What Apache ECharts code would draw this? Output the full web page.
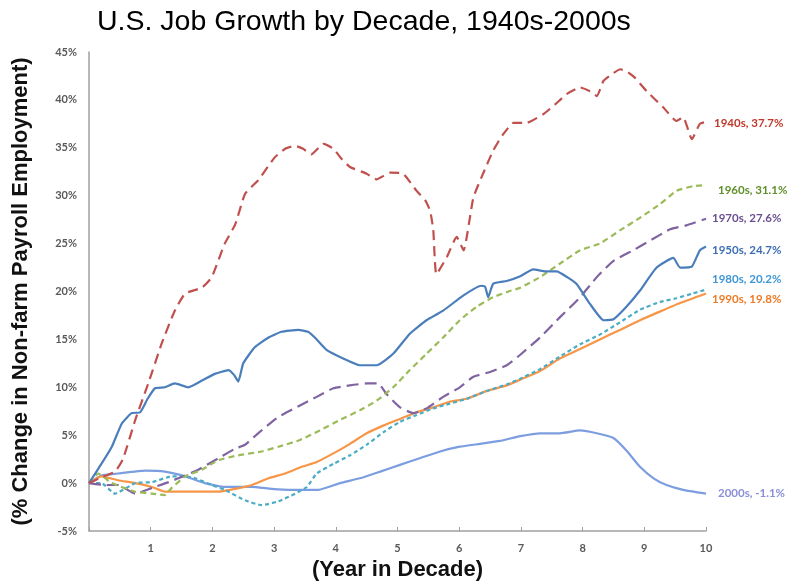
<!DOCTYPE html>
<html>
<head>
<meta charset="utf-8">
<script src="https://cdn.jsdelivr.net/npm/echarts@6/dist/echarts.min.js"></script>
<style>
html,body{margin:0;padding:0;background:#fff;}
#chart{width:788px;height:582px;}
</style>
</head>
<body>
<div id="chart"></div>
<script>
// Year-in-decade x values and % change values
const d1940s = [[0,0],[0.2,0.6],[0.42,1.2],[0.55,2.5],[0.75,6.6],[0.96,10.4],[1.18,14.6],[1.39,18],[1.56,19.8],[1.83,20.4],[1.99,21.5],[2.2,25],[2.37,27],[2.53,30.2],[2.74,31.6],[3.01,34],[3.18,34.9],[3.34,35.2],[3.47,34.9],[3.6,34.3],[3.8,35.4],[3.96,34.9],[4.1,33.8],[4.23,33],[4.5,32.3],[4.66,31.7],[4.88,32.4],[5.09,32.3],[5.31,30.5],[5.45,29.5],[5.53,28.4],[5.58,26.4],[5.63,21.8],[5.8,23.6],[5.96,25.7],[6.07,24.3],[6.23,29.8],[6.4,32.5],[6.55,34.7],[6.7,36.3],[6.88,37.6],[7.09,37.6],[7.36,38.5],[7.55,39.5],[7.74,40.6],[7.96,41.3],[8.12,40.9],[8.23,40.4],[8.34,42],[8.5,42.8],[8.61,43.2],[8.71,43],[8.85,42.3],[9.04,40.9],[9.31,39.2],[9.52,37.8],[9.63,38.2],[9.77,35.9],[9.9,37.5],[10,37.7]];
const d1950s = [[0,0],[0.2,2],[0.37,3.8],[0.53,6.2],[0.69,7.3],[0.83,7.4],[0.95,8.8],[1.07,9.9],[1.23,10],[1.39,10.4],[1.61,10],[1.83,10.7],[2.04,11.4],[2.26,11.8],[2.35,11.3],[2.42,10.6],[2.5,12.5],[2.69,14.2],[2.91,15.2],[3.12,15.8],[3.39,16],[3.55,15.8],[3.66,15.2],[3.85,13.9],[4.12,13],[4.39,12.3],[4.66,12.3],[4.93,13.5],[5.2,15.6],[5.47,17],[5.74,18],[6.07,19.6],[6.36,20.6],[6.42,20.5],[6.47,19.4],[6.55,20.8],[6.77,21.1],[6.99,21.6],[7.2,22.3],[7.4,22.1],[7.58,22.1],[7.75,21.5],[7.9,20.8],[8.12,18.7],[8.34,17],[8.5,17.1],[8.71,18.4],[8.93,20.1],[9.2,22.5],[9.47,23.5],[9.58,22.5],[9.77,22.6],[9.9,24.3],[10,24.7]];
const d1960s = [[0,0],[0.15,1],[0.37,0],[0.75,-0.9],[1.02,-1.1],[1.23,-1.25],[1.34,-0.5],[1.56,0.7],[1.83,1.4],[2.1,2.4],[2.42,2.9],[2.8,3.3],[3.07,3.8],[3.42,4.5],[3.74,5.5],[4.07,6.6],[4.39,7.6],[4.66,8.6],[4.93,10],[5.2,11.8],[5.47,13.5],[5.74,15.2],[6.01,17],[6.28,18.4],[6.55,19.4],[6.8,20],[6.99,20.4],[7.31,21.5],[7.63,22.9],[7.96,24.3],[8.28,25],[8.61,26.4],[8.93,27.7],[9.25,29.1],[9.52,30.5],[9.79,31],[10,31.1]];
const d1970s = [[0,0],[0.26,-0.2],[0.47,-0.2],[0.75,-1.1],[1.02,-0.5],[1.29,0.1],[1.56,0.8],[1.77,1.4],[2.1,2.6],[2.37,3.6],[2.53,4],[2.74,5.2],[3.07,6.9],[3.42,8.1],[3.69,9],[3.96,9.9],[4.23,10.2],[4.5,10.4],[4.69,10.4],[4.82,9.3],[5.04,7.9],[5.26,7.3],[5.47,7.8],[5.74,9],[6.01,10],[6.23,11.1],[6.5,11.6],[6.77,12.3],[6.99,13.4],[7.31,15.2],[7.63,17.3],[7.96,19.4],[8.23,21.5],[8.5,23.2],[8.82,24.3],[9.09,25.3],[9.42,26.5],[9.68,26.9],[10,27.6]];
const d1980s = [[0,0],[0.2,0],[0.42,-1.1],[0.75,0],[1.02,0.1],[1.34,0.7],[1.56,0.7],[1.72,0.5],[1.99,-0.2],[2.2,-0.7],[2.53,-1.8],[2.8,-2.3],[3.07,-1.9],[3.34,-1.1],[3.53,-0.4],[3.69,1],[3.96,2],[4.23,2.9],[4.5,4],[4.77,5.3],[5.04,6.4],[5.31,7.1],[5.58,7.8],[5.85,8.3],[6.12,8.8],[6.44,9.6],[6.77,10.3],[6.99,10.9],[7.31,11.9],[7.63,13.2],[7.96,14.5],[8.28,15.5],[8.61,16.8],[8.93,18.1],[9.25,18.9],[9.52,19.3],[9.79,19.8],[10,20.2]];
const d1990s = [[0,0],[0.2,0.7],[0.47,0.3],[0.75,0],[1.02,-0.4],[1.23,-0.9],[1.56,-0.9],[2.1,-0.9],[2.37,-0.6],[2.64,-0.2],[2.91,0.5],[3.18,1],[3.45,1.7],[3.69,2.2],[3.96,3.1],[4.23,4.1],[4.5,5.2],[4.77,6],[5.04,6.7],[5.31,7.4],[5.58,7.9],[5.85,8.5],[6.12,8.8],[6.44,9.6],[6.77,10.2],[6.99,10.8],[7.31,11.7],[7.63,13],[7.96,14],[8.28,15],[8.61,16],[8.93,17],[9.25,17.9],[9.58,18.8],[10,19.8]];
const d2000s = [[0,0],[0.2,0.8],[0.47,1],[0.91,1.3],[1.23,1.2],[1.56,0.7],[1.88,0],[2.2,-0.4],[2.64,-0.4],[2.96,-0.6],[3.29,-0.7],[3.72,-0.7],[4.07,0],[4.39,0.5],[4.72,1.2],[5.04,1.9],[5.36,2.6],[5.69,3.3],[6.01,3.8],[6.34,4.1],[6.66,4.4],[6.99,4.9],[7.31,5.2],[7.63,5.2],[7.96,5.5],[8.23,5.2],[8.5,4.7],[8.71,3.4],[8.93,1.7],[9.15,0.5],[9.36,-0.2],[9.63,-0.7],[10,-1.1]];

const decades = ['1940s','1950s','1960s','1970s','1980s','1990s','2000s'];
const finalValues = ['37.7','24.7','31.1','27.6','20.2','19.8','-1.1'];
const xTicks = [1,2,3,4,5,6,7,8,9,10];
const yTicks = [-5,0,5,10,15,20,25,30,35,40,45];

const seriesData = [d1940s,d1950s,d1960s,d1970s,d1980s,d1990s,d2000s];
const lineColors = ['#c0504d','#4a7ebb','#9bbb59','#8064a2','#4bacc6','#f79646','#7c9ee0'];
const labelColors = ['#c0392b','#3d6db5','#5f8f2a','#6a4f91','#3f96d6','#ee7a22','#8a8fd8'];
const dashes = [[10,6],'solid',[6,4],[12,6],[4,3],'solid','solid'];
const labelOffsets = [[2,1],[0,4],[6,5],[0,0],[0,-10],[0,6],[6,0]];

const chart = echarts.init(document.getElementById('chart'));
chart.setOption({
  animation: false,
  backgroundColor: '#fff',
  title: {
    text: 'U.S. Job Growth by Decade, 1940s-2000s',
    left: 92, top: 3,
    textStyle: {fontFamily: 'Liberation Sans', fontSize: 28.5, fontWeight: 'normal', color: '#000'}
  },
  grid: {left: 89, right: 82, top: 52, bottom: 51, containLabel: false, outerBoundsMode: 'none'},
  xAxis: {
    type: 'value', min: 0, max: 10, interval: 1,
    name: '(Year in Decade)', nameLocation: 'middle', nameGap: 26,
    nameTextStyle: {fontFamily: 'Liberation Sans', fontSize: 22, fontWeight: 'bold', color: '#111', verticalAlign: 'top'},
    axisLine: {onZero: false, lineStyle: {color: '#a0a0a0', width: 1.5}},
    axisTick: {show: true, inside: true, length: 4, lineStyle: {color: '#a0a0a0'}},
    splitLine: {show: false},
    axisLabel: {
      margin: 12,
      fontFamily: 'Lato', fontWeight: 'bold', fontSize: 11, color: '#595959',
      formatter: v => xTicks.includes(v) ? String(v) : ''
    }
  },
  yAxis: {
    type: 'value', min: -5, max: 45, interval: 5,
    name: '(% Change in Non-farm Payroll Employment)', nameLocation: 'middle', nameGap: 57, nameRotate: 90,
    nameTextStyle: {fontFamily: 'Liberation Sans', fontSize: 22, fontWeight: 'bold', color: '#111', verticalAlign: 'bottom'},
    axisLine: {show: true, lineStyle: {color: '#a0a0a0', width: 1.5}},
    axisTick: {show: false},
    splitLine: {show: false},
    axisLabel: {
      margin: 12,
      fontFamily: 'Lato', fontWeight: 'bold', fontSize: 11, color: '#595959',
      formatter: v => yTicks.includes(v) ? v + '%' : ''
    }
  },
  series: decades.map((name, i) => ({
    name: name,
    type: 'line',
    data: seriesData[i],
    showSymbol: false,
    symbol: 'none',
    smooth: 0.15,
    z: 10 - i,
    lineStyle: {color: lineColors[i], width: 2.2, type: dashes[i]},
    endLabel: {
      show: true,
      distance: 6,
      offset: labelOffsets[i],
      formatter: () => name + ', ' + finalValues[i] + '%',
      color: labelColors[i],
      fontFamily: 'Lato', fontWeight: 'bold', fontSize: 11.5
    }
  }))
});
</script>
</body>
</html>
